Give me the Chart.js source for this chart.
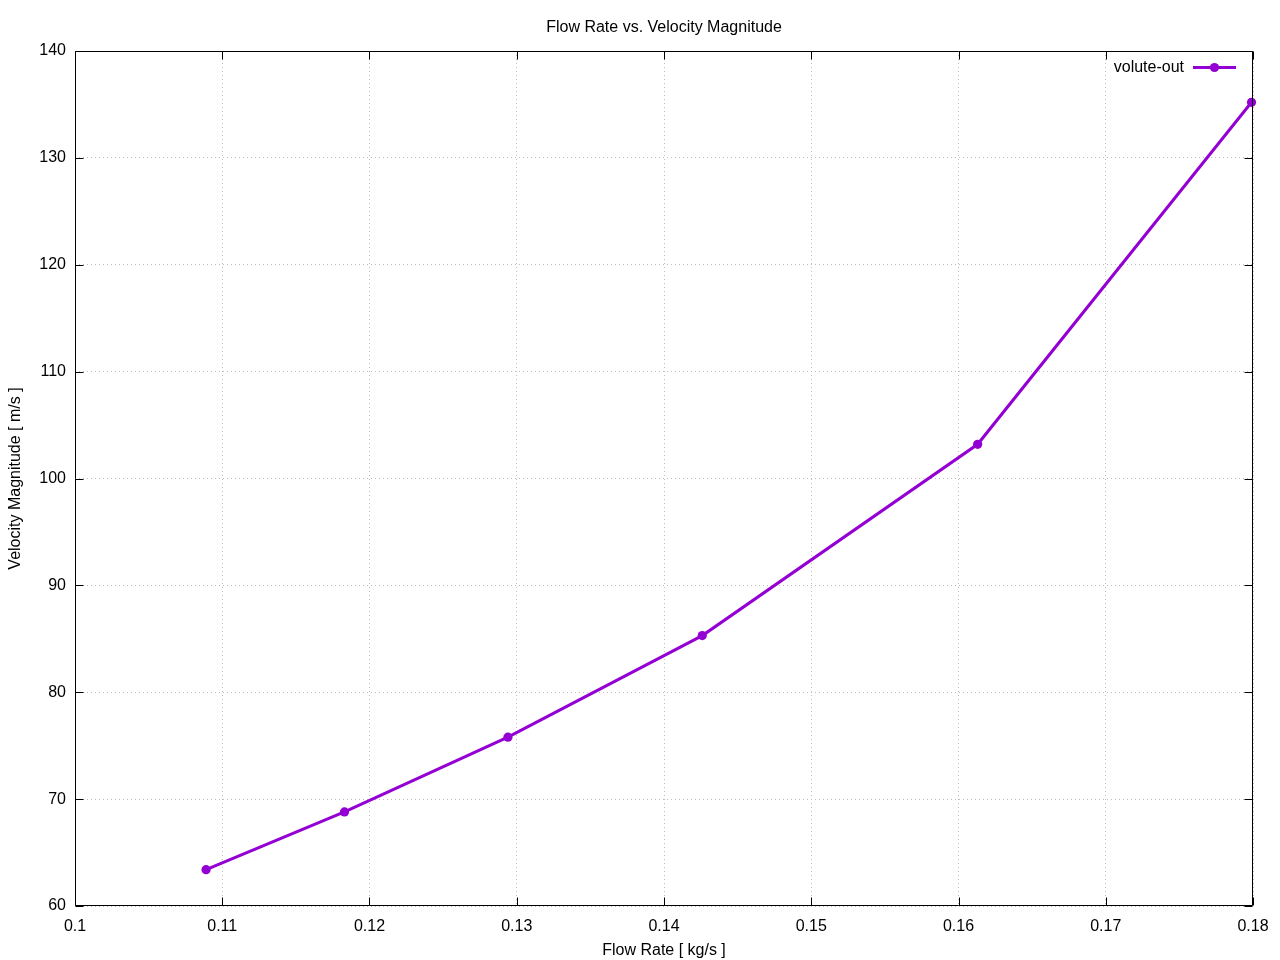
<!DOCTYPE html>
<html>
<head>
<meta charset="utf-8">
<script src="https://cdn.jsdelivr.net/npm/chart.js@4.4.1/dist/chart.umd.min.js"></script>
<style>
html,body{margin:0;padding:0;background:#fff;}
canvas{display:block;}
</style>
</head>
<body>
<canvas id="c" width="1280" height="960"></canvas>
<script>
const seriesName = 'volute-out';
const flowRate = [0.1089, 0.1183, 0.1294, 0.1426, 0.1613, 0.1799];
const velocity = [63.4, 68.8, 75.8, 85.3, 103.2, 135.2];
const xTickValues = [0.10, 0.11, 0.12, 0.13, 0.14, 0.15, 0.16, 0.17, 0.18];
const xTickLabels = ['0.1', '0.11', '0.12', '0.13', '0.14', '0.15', '0.16', '0.17', '0.18'];
const yTickValues = [60, 70, 80, 90, 100, 110, 120, 130, 140];
const yTickLabels = ['60', '70', '80', '90', '100', '110', '120', '130', '140'];
const titleText = 'Flow Rate vs. Velocity Magnitude';
const xTitle = 'Flow Rate [ kg/s ]';
const yTitle = 'Velocity Magnitude [ m/s ]';

const COLOR = '#9400d3';
const FONT = 'Liberation Sans, Arial, Helvetica, sans-serif';

const framePlugin = {
  id: 'frame',
  afterDatasetsDraw(chart) {
    const ctx = chart.ctx;
    const a = chart.chartArea;
    const xs = chart.scales.x, ys = chart.scales.y;
    ctx.save();
    ctx.strokeStyle = '#000';
    ctx.lineWidth = 1;
    const L = Math.round(a.left) + 0.5, R = Math.round(a.right) - 0.5;
    const T = Math.round(a.top) + 0.5, B = Math.round(a.bottom) - 0.5;
    ctx.beginPath();
    ctx.rect(L, T, R - L, B - T);
    ctx.stroke();
    const tl = 8;
    ctx.beginPath();
    xs.ticks.forEach(t => {
      const px = Math.round(xs.getPixelForValue(t.value)) + 0.5;
      ctx.moveTo(px, B); ctx.lineTo(px, B - tl);
      ctx.moveTo(px, T); ctx.lineTo(px, T + tl);
    });
    ys.ticks.forEach(t => {
      const py = Math.round(ys.getPixelForValue(t.value)) + 0.5;
      ctx.moveTo(L, py); ctx.lineTo(L + tl, py);
      ctx.moveTo(R, py); ctx.lineTo(R - tl, py);
    });
    ctx.stroke();
    // legend (gnuplot style: text then sample)
    const ly = a.top + 16.5;
    ctx.font = '16px ' + FONT;
    ctx.fillStyle = '#000';
    ctx.textAlign = 'right';
    ctx.textBaseline = 'middle';
    ctx.fillText(seriesName, a.right - 69, ly);
    ctx.strokeStyle = COLOR;
    ctx.lineWidth = 3;
    ctx.beginPath();
    ctx.moveTo(a.right - 60, ly); ctx.lineTo(a.right - 17, ly);
    ctx.stroke();
    ctx.fillStyle = COLOR;
    ctx.beginPath();
    ctx.arc(a.right - 38.5, ly, 4.6, 0, Math.PI * 2);
    ctx.fill();
    ctx.restore();
  }
};

new Chart(document.getElementById('c'), {
  type: 'scatter',
  data: {
    datasets: [{
      label: seriesName,
      data: flowRate.map((x, i) => ({x: x, y: velocity[i]})),
      showLine: true,
      borderColor: COLOR,
      backgroundColor: COLOR,
      borderWidth: 3,
      pointRadius: 4.6,
      pointHoverRadius: 4.6,
      pointBorderWidth: 0,
      tension: 0,
      clip: false
    }]
  },
  options: {
    responsive: false,
    animation: false,
    devicePixelRatio: 1,
    layout: {padding: {left: 0, right: 27, top: 0, bottom: 0}},
    plugins: {
      legend: {display: false},
      tooltip: {enabled: false},
      title: {
        display: true,
        fullSize: false,
        text: titleText,
        color: '#000',
        font: {family: FONT, size: 16, weight: 'normal'},
        padding: {top: 18.4, bottom: 13.4}
      }
    },
    scales: {
      x: {
        type: 'linear',
        min: 0.1, max: 0.18,
        afterBuildTicks: s => { s.ticks = xTickValues.map(v => ({value: v})); },
        afterFit: s => { s.height = 54; },
        ticks: {
          color: '#000',
          font: {family: FONT, size: 16},
          padding: 11,
          maxRotation: 0,
          autoSkip: false,
          callback: (v, i) => xTickLabels[i]
        },
        grid: {color: '#bdbdbd', lineWidth: 1, drawTicks: false},
        border: {display: false, dash: [1, 3]},
        title: {
          display: true, text: xTitle, color: '#000',
          font: {family: FONT, size: 16}, padding: {top: 0, bottom: 0}
        }
      },
      y: {
        type: 'linear',
        min: 60, max: 140,
        afterBuildTicks: s => { s.ticks = yTickValues.map(v => ({value: v})); },
        afterFit: s => { s.width = 75; },
        ticks: {
          color: '#000',
          font: {family: FONT, size: 16},
          padding: 9,
          autoSkip: false,
          callback: (v, i) => yTickLabels[i]
        },
        grid: {color: '#bdbdbd', lineWidth: 1, drawTicks: false},
        border: {display: false, dash: [1, 3]},
        title: {
          display: true, text: yTitle, color: '#000',
          font: {family: FONT, size: 16}, padding: {top: 6, bottom: 0}
        }
      }
    }
  },
  plugins: [framePlugin]
});
</script>
</body>
</html>
